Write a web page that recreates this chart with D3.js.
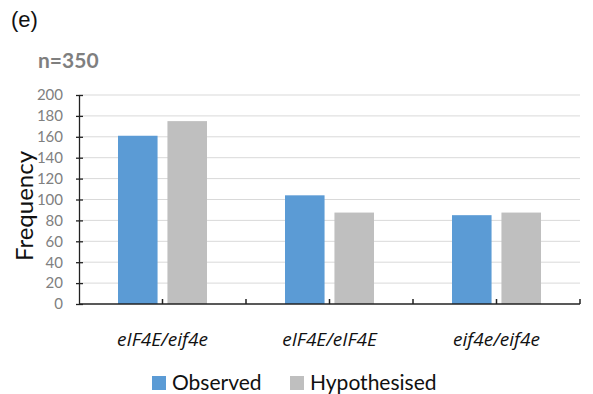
<!DOCTYPE html>
<html><head><meta charset="utf-8">
<script src="https://cdn.jsdelivr.net/npm/d3@7"></script>
<style>body{margin:0;background:#fff}svg{display:block}</style>
</head><body>
<svg id="c" width="593" height="394"></svg>
<script>
const categories = ["eIF4E/eif4e", "eIF4E/eIF4E", "eif4e/eif4e"];
const seriesNames = ["Observed", "Hypothesised"];
const observed = [161, 104, 85];
const hypothesised = [175, 87.5, 87.5];
const yTicks = [0, 20, 40, 60, 80, 100, 120, 140, 160, 180, 200];
const colors = ["#5b9bd5", "#bfbfbf"];

const FONT = "Lato, 'Open Sans', sans-serif";
const svg = d3.select("#c");
const L = 79, R = 580, T = 95, B = 304;
const x = d3.scaleBand().domain(categories).range([L, R]).padding(0);
const y = d3.scaleLinear().domain([0, 200]).range([B, T]);
const groupW = 89;
const x1 = d3.scaleBand().domain(seriesNames).range([-groupW/2, groupW/2]).paddingInner(0.2).paddingOuter(0);

// gridlines
svg.append("g").selectAll("line").data(yTicks.filter(d => d > 0)).join("line")
  .attr("x1", L).attr("x2", R).attr("y1", d => y(d)).attr("y2", d => y(d))
  .attr("stroke", "#d9d9d9").attr("stroke-width", 1);

// bars
const vals = [observed, hypothesised];
seriesNames.forEach((s, si) => {
  svg.append("g").selectAll("rect").data(categories).join("rect")
    .attr("x", c => x(c) + x.bandwidth()/2 + x1(s))
    .attr("width", x1.bandwidth())
    .attr("y", (c, i) => y(vals[si][i]))
    .attr("height", (c, i) => B - y(vals[si][i]))
    .attr("fill", colors[si]);
});

// y axis
const yAxis = d3.axisLeft(y).tickValues(yTicks).tickSizeInner(3).tickSizeOuter(0).tickPadding(13);
const ya = svg.append("g").attr("transform", `translate(${L},0)`).call(yAxis);
ya.select(".domain").attr("stroke", "#222").attr("stroke-width", 1.3);
ya.selectAll(".tick line").attr("x1", 4).attr("stroke", "#222").attr("stroke-width", 1.3);
ya.selectAll(".tick text").attr("fill", "#808080").style("font-family", FONT).style("font-size", "15px");

// x axis baseline
svg.append("line").attr("x1", L).attr("x2", R).attr("y1", B).attr("y2", B).attr("stroke", "#222").attr("stroke-width", 1.3);
// x ticks at category boundaries and centers
const xt = [];
categories.forEach(c => { xt.push(x(c) + x.bandwidth()/2); xt.push(x(c) + x.bandwidth()); });
svg.append("g").selectAll("line").data(xt).join("line")
  .attr("x1", d => d).attr("x2", d => d).attr("y1", B).attr("y2", B - 5)
  .attr("stroke", "#222").attr("stroke-width", 1.5);

// category labels
svg.append("g").selectAll("text").data(categories).join("text")
  .attr("x", c => x(c) + x.bandwidth()/2).attr("y", 346)
  .attr("text-anchor", "middle").attr("fill", "#111")
  .style("font-family", "'Open Sans', sans-serif").style("font-style", "italic").style("font-size", "19px")
  .text(d => d);

// y title
svg.append("text").attr("transform", "translate(33,206) rotate(-90)")
  .attr("text-anchor", "middle").attr("fill", "#111")
  .style("font-family", FONT).style("font-size", "24px").text("Frequency");

// legend
const lg = svg.append("g");
const legX = [152, 290];
seriesNames.forEach((s, i) => {
  lg.append("rect").attr("x", legX[i]).attr("y", 376).attr("width", 14).attr("height", 14).attr("fill", colors[i]);
  lg.append("text").attr("x", legX[i] + 20).attr("y", 390).attr("fill", "#111")
    .style("font-family", FONT).style("font-size", "21px").text(s);
});

// labels
svg.append("text").attr("x", 11).attr("y", 27).attr("fill", "#111")
  .style("font-family", "Liberation Sans, Arial, sans-serif").style("font-size", "22px").text("(e)");
svg.append("text").attr("x", 38).attr("y", 68).attr("fill", "#7f7f7f")
  .style("font-family", FONT).style("font-weight", "bold").style("font-size", "21px").text("n=350");
</script>
</body></html>
